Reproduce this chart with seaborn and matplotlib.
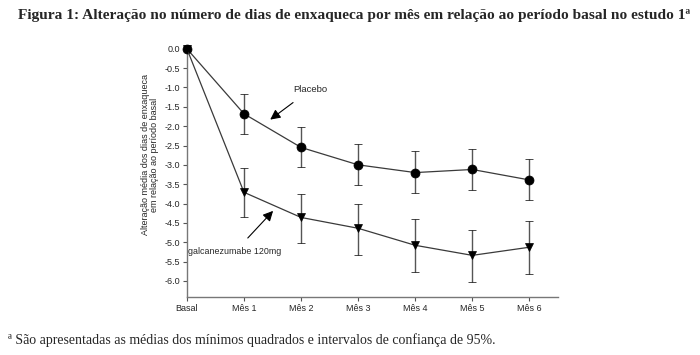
import pandas as pd
import matplotlib.pyplot as plt
import numpy as np
import seaborn as sns

# values
months = ['Basal', 'Mês 1', 'Mês 2', 'Mês 3', 'Mês 4', 'Mês 5', 'Mês 6']
placebo = [0.0, -1.68, -2.55, -3.0, -3.20, -3.12, -3.39]
placebo_hi = [0.0, -1.17, -2.03, -2.46, -2.65, -2.58, -2.84]
placebo_lo = [0.0, -2.19, -3.05, -3.52, -3.73, -3.65, -3.92]
galca = [0.0, -3.71, -4.36, -4.64, -5.08, -5.34, -5.13]
galca_hi = [0.0, -3.08, -3.75, -4.00, -4.40, -4.68, -4.46]
galca_lo = [0.0, -4.34, -5.01, -5.32, -5.77, -6.03, -5.82]
yticks = [0.0, -0.5, -1.0, -1.5, -2.0, -2.5, -3.0, -3.5, -4.0, -4.5, -5.0, -5.5, -6.0]

sns.set_style('ticks')
plt.rcParams['font.family'] = ['Liberation Sans', 'DejaVu Sans']

df = pd.DataFrame({
    'x': list(range(len(months))) * 2,
    'y': placebo + galca,
    'grupo': ['Placebo'] * len(months) + ['galcanezumabe 120mg'] * len(months),
})

fig = plt.figure(figsize=(7, 3.55), dpi=100)
ax = fig.add_axes([0.267, 0.163, 0.53, 0.705])

line_col = '#3a3a3a'
err_col = '#555555'
x = np.arange(len(months))
for vals, hi, lo in [(placebo, placebo_hi, placebo_lo), (galca, galca_hi, galca_lo)]:
    v = np.array(vals)
    yerr = np.vstack([v - np.array(lo), np.array(hi) - v])
    mask = x > 0
    ax.errorbar(x[mask], v[mask], yerr=yerr[:, mask], fmt='none', ecolor=err_col,
                elinewidth=1.0, capsize=3, capthick=1.0, zorder=2)

sns.lineplot(data=df, x='x', y='y', hue='grupo', style='grupo',
             markers={'Placebo': 'o', 'galcanezumabe 120mg': 'v'}, dashes=False,
             palette={'Placebo': line_col, 'galcanezumabe 120mg': line_col},
             linewidth=0.9, legend=False, ax=ax, zorder=3)
for ln in ax.lines:
    if ln.get_marker() == 'o':
        ln.set_markersize(6.5)
    elif ln.get_marker() == 'v':
        ln.set_markersize(5.5)
    ln.set_markerfacecolor('black')
    ln.set_markeredgecolor('black')
    ln.set_markeredgewidth(0.5)
    ln.set_clip_on(False)

ax.set_xlim(0, 6.5)
ax.set_ylim(-6.42, 0.05)
ax.set_xticks(x)
ax.set_xticklabels(months, fontsize=6.5)
ax.set_yticks(yticks)
ax.set_yticklabels([f'{t:.1f}' for t in yticks], fontsize=6.5)
ax.tick_params(length=3, width=0.8, color='#555555', pad=2)
ax.set_xlabel('')
ax.set_ylabel('Alteração média dos dias de enxaqueca\nem relação ao período basal',
              fontsize=6.5, linespacing=1.0)
ax.yaxis.set_label_coords(-0.075, 0.57)
for s in ['top', 'right']:
    ax.spines[s].set_visible(False)
for s in ['left', 'bottom']:
    ax.spines[s].set_color('#777777')
    ax.spines[s].set_linewidth(1.0)

ax.annotate('Placebo', xy=(1.46, -1.83), xytext=(2.16, -1.06), fontsize=6.8,
            ha='center', va='center',
            arrowprops=dict(arrowstyle='-|>', color='black', lw=0.8,
                            mutation_scale=15, shrinkA=6, shrinkB=0))
ax.annotate('galcanezumabe 120mg', xy=(1.51, -4.19), xytext=(0.84, -5.25), fontsize=6.4,
            ha='center', va='center',
            arrowprops=dict(arrowstyle='-|>', color='black', lw=0.8,
                            mutation_scale=15, shrinkA=6, shrinkB=0))

fig.text(0.506, 0.955, 'Figura 1: Alteração no número de dias de enxaqueca por mês em relação ao período basal no estudo 1ª',
         ha='center', va='center', fontsize=11.1, fontweight='bold', family='Liberation Serif')
fig.text(0.012, 0.043, 'ª São apresentadas as médias dos mínimos quadrados e intervalos de confiança de 95%.',
         ha='left', va='center', fontsize=10, family='Liberation Serif')

fig.savefig('out.png', dpi=100, facecolor='white')
